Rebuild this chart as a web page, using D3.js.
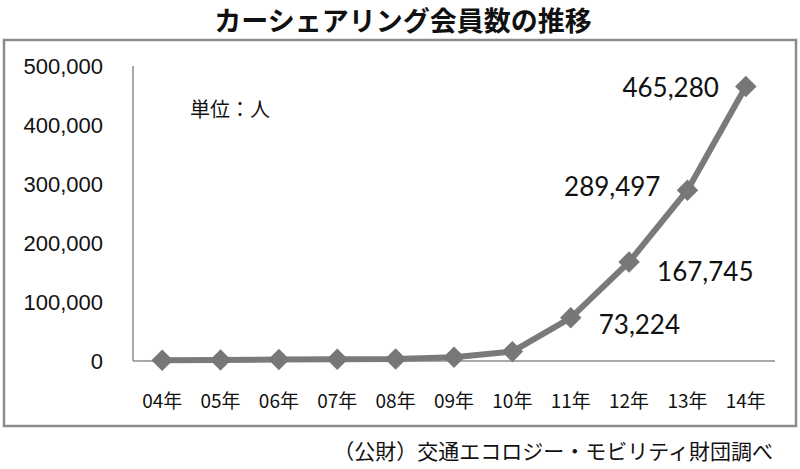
<!DOCTYPE html>
<html>
<head>
<meta charset="utf-8">
<script src="https://cdn.jsdelivr.net/npm/d3@7"></script>
<style>
  body { margin: 0; background: #fff; }
</style>
</head>
<body>
<div class="canvas"></div>
<script>
// data
const years = ['04年', '05年', '06年', '07年', '08年', '09年', '10年', '11年', '12年', '13年', '14年'];
const members = [1300, 1712, 2500, 2863, 3245, 6396, 15894, 73224, 167745, 289497, 465280];
const yTicks = [0, 100000, 200000, 300000, 400000, 500000];
// which points get a number, and where it sits
const labelled = ['11年', '12年', '13年', '14年'];
const labelSide = { '11年': 'right', '12年': 'right', '13年': 'left', '14年': 'left' };

const width = 800, height = 469;

const svg = d3.select('.canvas')
    .append('svg')
    .attr('width', width)
    .attr('height', height);

// title
svg.append('text')
    .attr('x', 403)
    .attr('y', 31)
    .attr('text-anchor', 'middle')
    .attr('font-family', '"Noto Sans CJK JP", sans-serif')
    .attr('font-weight', 'bold')
    .attr('font-size', 27)
    .attr('fill', '#111')
    .text('カーシェアリング会員数の推移');

// frame
svg.append('rect')
    .attr('x', 4)
    .attr('y', 40)
    .attr('width', 792)
    .attr('height', 386)
    .attr('fill', 'none')
    .attr('stroke', '#8c8c8c')
    .attr('stroke-width', 2.5);

const x = d3.scaleBand()
    .domain(years)
    .range([133, 775]);

const y = d3.scaleLinear()
    .domain([0, 500000])
    .range([361, 66]);

// axes lines
svg.append('line')
    .attr('x1', 133).attr('x2', 133)
    .attr('y1', y(500000)).attr('y2', y(0))
    .attr('stroke', '#8c8c8c').attr('stroke-width', 1.5);

svg.append('line')
    .attr('x1', 133).attr('x2', 775)
    .attr('y1', y(0)).attr('y2', y(0))
    .attr('stroke', '#8c8c8c').attr('stroke-width', 1.5);

// y tick labels
svg.append('g')
    .selectAll('text')
    .data(yTicks)
    .enter()
    .append('text')
    .attr('x', 103)
    .attr('y', d => y(d))
    .attr('dy', '0.35em')
    .attr('text-anchor', 'end')
    .attr('font-family', '"Liberation Sans", Arial, sans-serif')
    .attr('font-size', 22)
    .attr('fill', '#111')
    .text(d => d3.format(',')(d));

// x tick labels
svg.append('g')
    .selectAll('text')
    .data(years)
    .enter()
    .append('text')
    .attr('x', d => x(d) + x.bandwidth() / 2)
    .attr('y', 401)
    .attr('dy', '0.35em')
    .attr('text-anchor', 'middle')
    .attr('font-family', '"Noto Sans CJK JP", sans-serif')
    .attr('font-size', 19)
    .attr('fill', '#111')
    .text(d => d);

// unit
svg.append('text')
    .attr('x', 190)
    .attr('y', 110)
    .attr('dy', '0.35em')
    .attr('font-family', '"Noto Sans CJK JP", sans-serif')
    .attr('font-size', 20)
    .attr('fill', '#111')
    .text('単位：人');

// line
const points = years.map((yr, i) => ({ year: yr, value: members[i] }));

const line = d3.line()
    .x(d => x(d.year) + x.bandwidth() / 2)
    .y(d => y(d.value));

svg.append('path')
    .datum(points)
    .attr('d', line)
    .attr('fill', 'none')
    .attr('stroke', '#7a7a7a')
    .attr('stroke-width', 6)
    .attr('stroke-linejoin', 'round');

// markers
const diamond = d3.symbol().type(d3.symbolSquare).size(230);

svg.append('g')
    .selectAll('path')
    .data(points)
    .enter()
    .append('path')
    .attr('d', diamond)
    .attr('transform', d => `translate(${x(d.year) + x.bandwidth() / 2}, ${y(d.value)}) rotate(45)`)
    .attr('fill', '#777');

// value labels
svg.append('g')
    .selectAll('text')
    .data(points.filter(d => labelled.includes(d.year)))
    .enter()
    .append('text')
    .attr('x', d => {
        const cx = x(d.year) + x.bandwidth() / 2;
        return labelSide[d.year] == 'right' ? cx + 28 : cx - 27;
    })
    .attr('y', d => {
        const cy = y(d.value);
        if (d.year == '11年') return cy + 7;
        if (d.year == '12年') return cy + 10;
        if (d.year == '13年') return cy - 3;
        return cy + 1;
    })
    .attr('dy', '0.35em')
    .attr('text-anchor', d => labelSide[d.year] == 'right' ? 'start' : 'end')
    .attr('font-family', 'Lato, "Open Sans", sans-serif')
    .attr('font-size', 26)
    .attr('fill', '#111')
    .text(d => d3.format(',')(d.value));

// source
svg.append('text')
    .attr('x', 773)
    .attr('y', 452)
    .attr('dy', '0.35em')
    .attr('text-anchor', 'end')
    .attr('font-family', '"Noto Sans CJK JP", sans-serif')
    .attr('font-size', 21)
    .attr('fill', '#111')
    .text('（公財）交通エコロジー・モビリティ財団調べ');
</script>
</body>
</html>
